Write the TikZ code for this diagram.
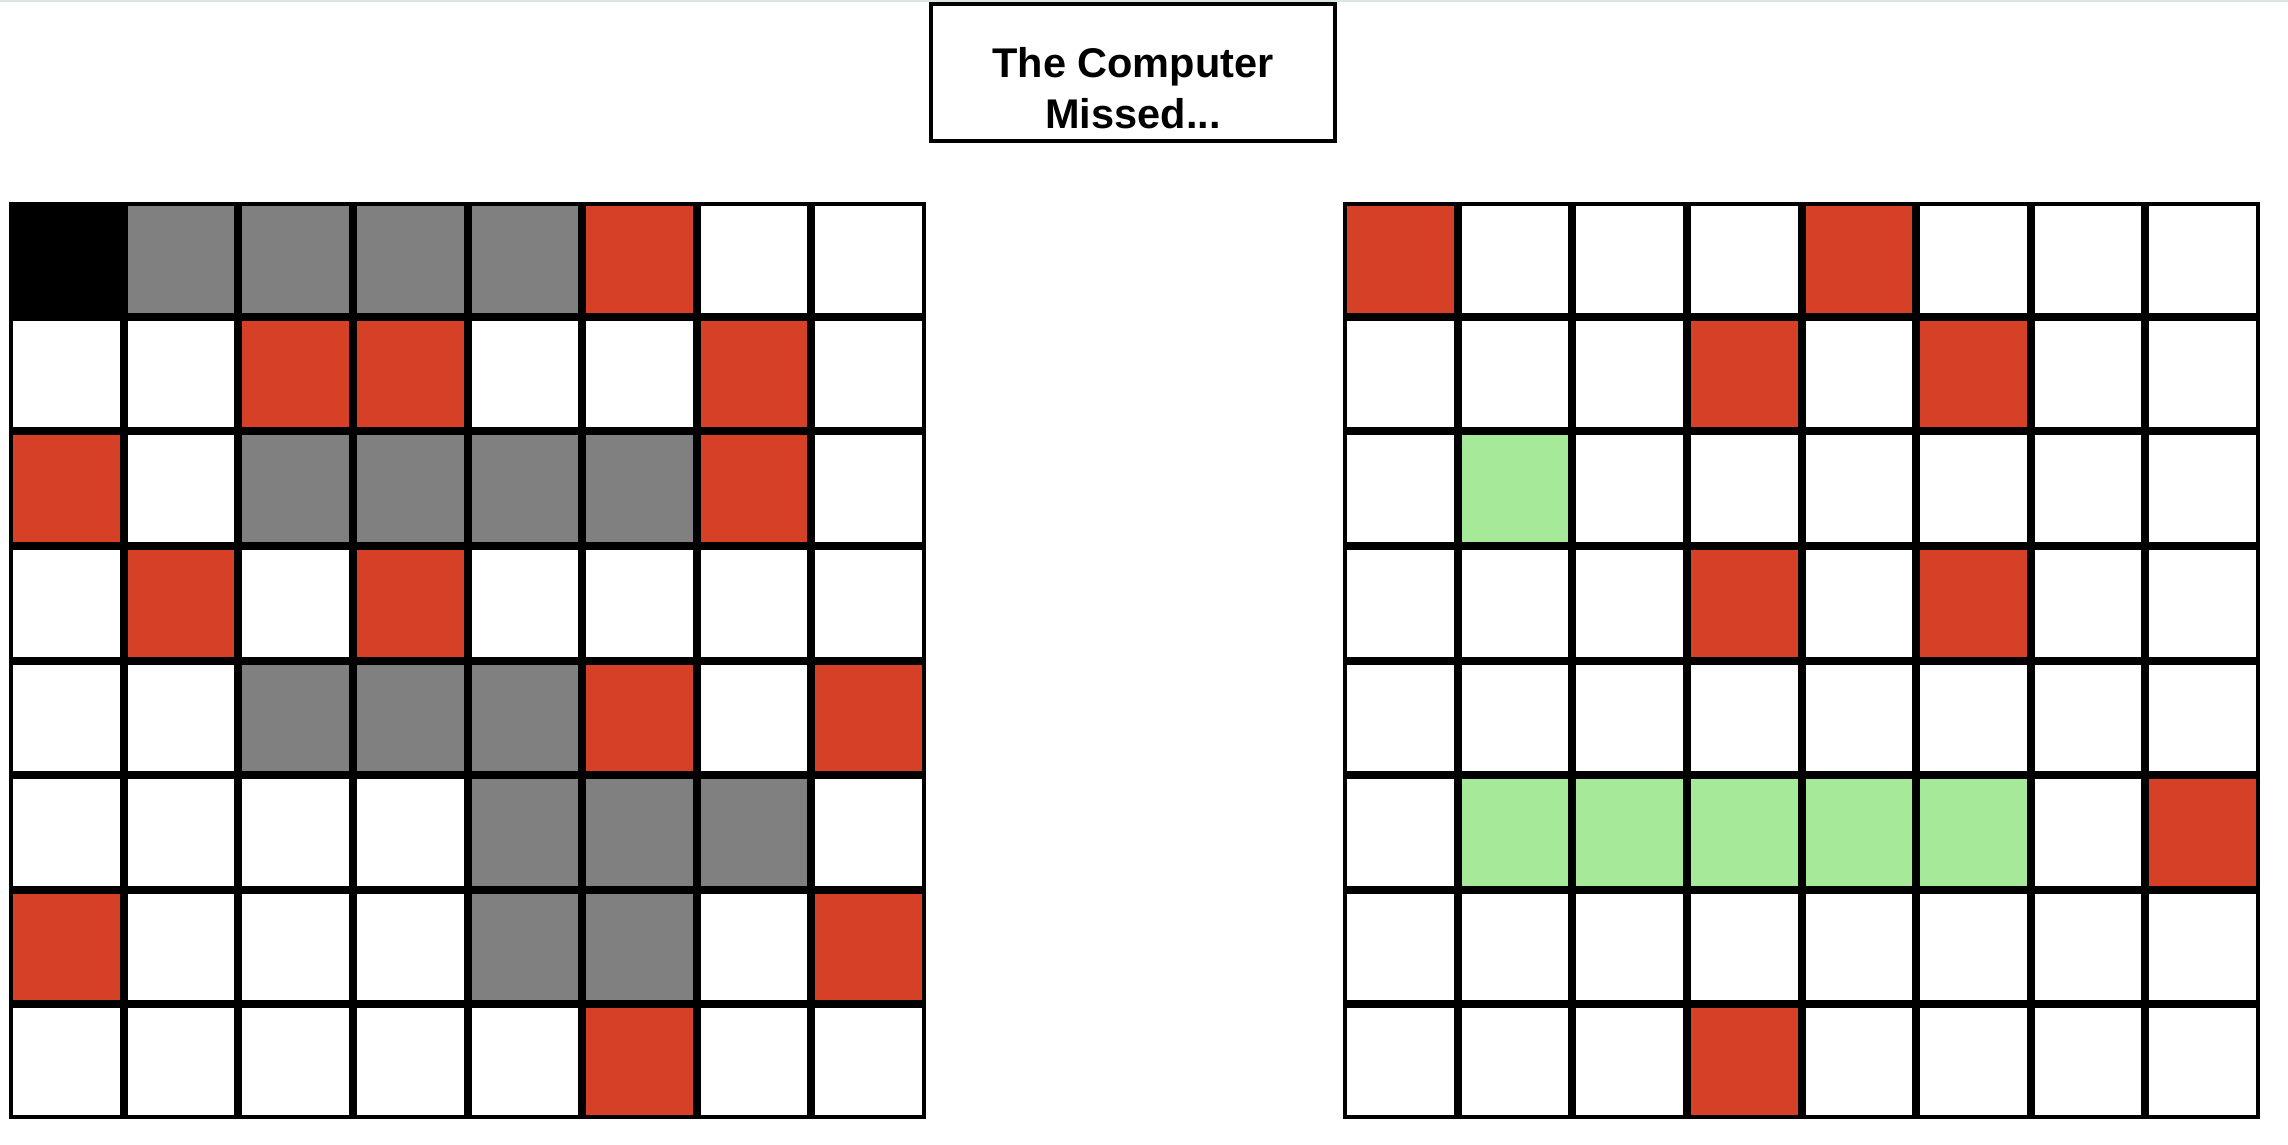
\documentclass[tikz,border=0pt]{standalone}
\usepackage{fontspec}
\setmainfont{Liberation Sans}
\definecolor{cred}{RGB}{214,64,39}
\definecolor{cgray}{RGB}{128,128,128}
\definecolor{cgreen}{RGB}{166,234,153}
\definecolor{cband}{RGB}{220,230,224}
\tikzset{
  cellbox/.style={draw=black,line width=4pt},
  titlebox/.style={draw=black,line width=4pt,minimum width=404pt,minimum height=137pt,inner sep=0pt},
  titletext/.style={font=\fontsize{41.5}{51}\selectfont\bfseries,inner sep=0pt,anchor=base}
}
\begin{document}
\begin{tikzpicture}[x=1pt,y=-1pt]
\def\p{114.625}
\useasboundingbox (0,0) rectangle (2288,1144);
\fill[white] (0,0) rectangle (2288,1144);
\fill[cband] (0,0) rectangle (2288,2);
% title
\node[titlebox] (title) at (1133,72.5) {};
\node[titletext] (t1) at (1133,77) {The Computer};
\node[titletext] (t2) at (1133,128) {Missed...};
% left grid
\begin{scope}[shift={(9,202)}]
  \foreach \c/\r/\col in {0/0/black,1/0/cgray,2/0/cgray,3/0/cgray,4/0/cgray,5/0/cred,
    2/1/cred,3/1/cred,6/1/cred,
    0/2/cred,2/2/cgray,3/2/cgray,4/2/cgray,5/2/cgray,6/2/cred,
    1/3/cred,3/3/cred,
    2/4/cgray,3/4/cgray,4/4/cgray,5/4/cred,7/4/cred,
    4/5/cgray,5/5/cgray,6/5/cgray,
    0/6/cred,4/6/cgray,5/6/cgray,7/6/cred,
    5/7/cred}
    \fill[\col] ({\c*\p},{\r*\p}) rectangle ++(\p,\p);
  \foreach \i in {0,...,7}
    \foreach \j in {0,...,7}
      \draw[cellbox] ({\i*\p+2},{\j*\p+2}) rectangle ++({\p-4},{\p-4});
\end{scope}
% right grid
\begin{scope}[shift={(1343,202)}]
  \foreach \c/\r/\col in {0/0/cred,4/0/cred,
    3/1/cred,5/1/cred,
    1/2/cgreen,
    3/3/cred,5/3/cred,
    1/5/cgreen,2/5/cgreen,3/5/cgreen,4/5/cgreen,5/5/cgreen,7/5/cred,
    3/7/cred}
    \fill[\col] ({\c*\p},{\r*\p}) rectangle ++(\p,\p);
  \foreach \i in {0,...,7}
    \foreach \j in {0,...,7}
      \draw[cellbox] ({\i*\p+2},{\j*\p+2}) rectangle ++({\p-4},{\p-4});
\end{scope}
\end{tikzpicture}
\end{document}
